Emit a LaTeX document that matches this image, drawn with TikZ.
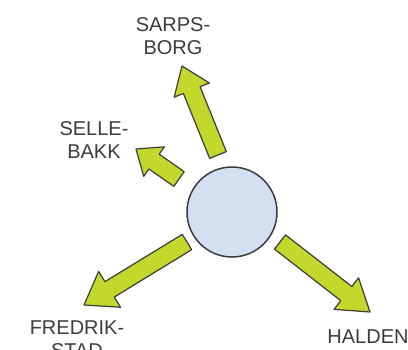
\documentclass[tikz,border=0pt]{standalone}
\usepackage{fontspec}
\setmainfont{Liberation Sans}
\usetikzlibrary{calc}

\definecolor{leafgreen}{HTML}{C3D82C}
\definecolor{inkgray}{HTML}{3C3C3C}
\definecolor{ballblue}{HTML}{D4E0F1}

\tikzset{
  town/.style={align=center, font=\fontsize{20}{23}\selectfont, text=inkgray, inner sep=0pt},
  flow/.style={fill=leafgreen, draw=inkgray, line width=1.2pt, line join=round},
}

% fat arrow: tail, tip, half shaft, half head, head length
\newcommand{\fatarrow}[5]{%
  \coordinate (base) at ($(#2)!#5!(#1)$);
  \draw[flow] ($(#1)!#3!90:(#2)$) -- ($(base)!#3!90:(#2)$) -- ($(base)!#4!90:(#2)$) -- (#2)
    -- ($(base)!#4!-90:(#2)$) -- ($(base)!#3!-90:(#2)$) -- ($(#1)!#3!-90:(#2)$) -- cycle;
}

\begin{document}
\begin{tikzpicture}[x=1pt,y=-1pt]
    \useasboundingbox (0,0) rectangle (408,349);

    \node[circle, minimum size=90pt, fill=ballblue, draw=inkgray, line width=1.5pt]
        (ball) at (232,212) {};

    \node[town] (sarpsborg) at (173,36) {SARPS-\\BORG};
    \node[town] (sellebakk) at (94,140) {SELLE-\\BAKK};
    \node[town] (fredrikstad) at (77,339) {FREDRIK-\\STAD};
    \node[town] (halden) at (368,337) {HALDEN};

    \coordinate (sarpsTail) at (218,155);
    \coordinate (sarpsTip) at (182,66);
    \coordinate (selleTail) at (179,179);
    \coordinate (selleTip) at (136,149);
    \coordinate (fredTail) at (187,242);
    \coordinate (fredTip) at (84,305);
    \coordinate (haldenTail) at (280,242);
    \coordinate (haldenTip) at (370,312);

    \fatarrow{sarpsTail}{sarpsTip}{9pt}{19pt}{26pt}
    \fatarrow{selleTail}{selleTip}{9pt}{18pt}{22pt}
    \fatarrow{fredTail}{fredTip}{9pt}{21pt}{30pt}
    \fatarrow{haldenTail}{haldenTip}{9pt}{20pt}{30pt}
\end{tikzpicture}
\end{document}
